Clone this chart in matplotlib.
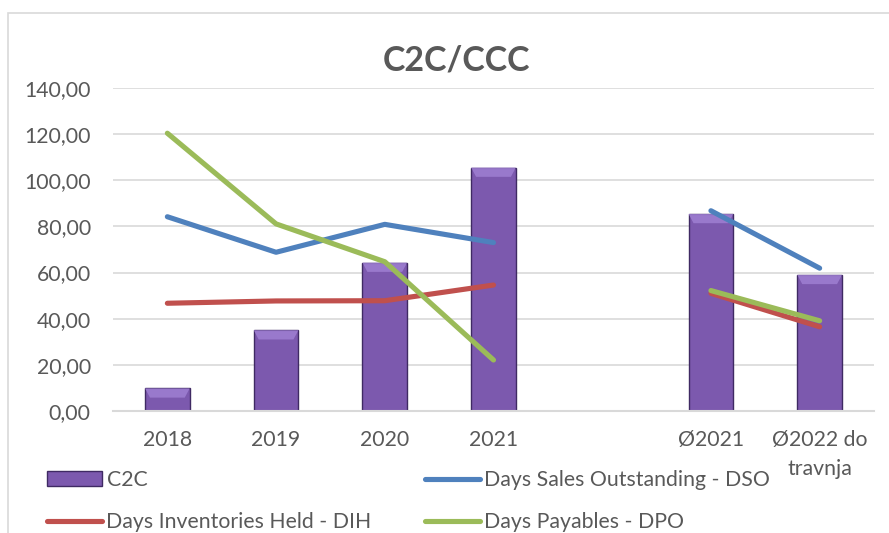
import numpy as np
import matplotlib
matplotlib.use("Agg")
import matplotlib.pyplot as plt
from matplotlib.patches import Rectangle, Patch, Polygon
from matplotlib.lines import Line2D
from matplotlib.ticker import FuncFormatter

plt.rcParams['font.family'] = ['Lato', 'DejaVu Sans']

categories = ["2018", "2019", "2020", "2021", "", "Ø2021", "Ø2022 do\ntravnja"]
c2c = [9.8, 35.0, 64.3, 105.5, np.nan, 85.4, 59.0]
dso = [84.2, 68.8, 80.9, 73.0, np.nan, 86.8, 61.9]
dih = [46.7, 47.7, 47.8, 54.6, np.nan, 51.0, 36.5]
dpo = [120.4, 81.1, 64.7, 22.1, np.nan, 52.2, 39.1]

TXT = "#595959"
GRID = "#d9d9d9"
BAR = "#7c59ae"
BAR_EDGE = "#3f2a63"
BAR_TOP = "#9f7fd2"
C_DSO = "#4f81bd"
C_DIH = "#c0504d"
C_DPO = "#9bbb59"
FS = 15.3

fig = plt.figure(figsize=(8.89, 5.33), dpi=100)
fig.patch.set_facecolor("white")
fig.add_artist(Rectangle((8/889, -0.05), 1.1, 1 - 13/533 + 0.05, transform=fig.transFigure,
                         fill=False, edgecolor="#d9d9d9", linewidth=1.2))

ax = fig.add_axes([113/889, 1 - 411/533, (874 - 113)/889, (411 - 88)/533])
x = np.arange(len(categories))
vals = np.array(c2c, dtype=float)
bw = 0.41
ax.bar(x, vals, width=bw, color=BAR, edgecolor=BAR_EDGE, linewidth=1.0, zorder=2)
# bevel highlight on top of each bar
bev = 4.0
inset = 0.045
for xi, v in zip(x, vals):
    if np.isnan(v):
        continue
    h = min(bev, v / 2)
    poly = Polygon([(xi - bw/2, v), (xi + bw/2, v), (xi + bw/2 - inset, v - h), (xi - bw/2 + inset, v - h)],
                   closed=True, facecolor=BAR_TOP, edgecolor='none', alpha=0.85, zorder=2.5)
    ax.add_patch(poly)

lw = 3.7
ax.plot(x, dso, color=C_DSO, lw=lw, solid_capstyle='round', solid_joinstyle='round', zorder=3)
ax.plot(x, dih, color=C_DIH, lw=lw, solid_capstyle='round', solid_joinstyle='round', zorder=3)
ax.plot(x, dpo, color=C_DPO, lw=lw, solid_capstyle='round', solid_joinstyle='round', zorder=3)

ax.set_xlim(-0.5, len(categories) - 0.5)
ax.set_ylim(0, 140)
ax.set_yticks(np.arange(0, 141, 20))
ax.yaxis.set_major_formatter(FuncFormatter(lambda v, p: f"{v:.2f}".replace(".", ",")))
ax.set_xticks(x)
ax.set_xticklabels(categories, linespacing=1.55)
ax.grid(axis='y', color=GRID, linewidth=1.2, zorder=0)
ax.set_axisbelow(True)
for s in ["top", "right", "left"]:
    ax.spines[s].set_visible(False)
ax.spines["bottom"].set_color(GRID)
ax.spines["bottom"].set_linewidth(1.5)
ax.tick_params(axis='both', length=0, labelsize=FS, labelcolor=TXT)
ax.tick_params(axis='x', pad=14)
ax.tick_params(axis='y', pad=16)

fig.text(457/889, 1 - 61/533, "C2C/CCC", ha='center', va='center', fontsize=24.5,
         fontweight='bold', color=TXT)

h_c2c = Patch(facecolor=BAR, edgecolor=BAR_EDGE, linewidth=1.0)
h_dso = Line2D([], [], color=C_DSO, lw=lw, solid_capstyle='round')
h_dih = Line2D([], [], color=C_DIH, lw=lw, solid_capstyle='round')
h_dpo = Line2D([], [], color=C_DPO, lw=lw, solid_capstyle='round')
# column-major order so rows read: C2C | DSO ; DIH | DPO
handles = [h_c2c, h_dih, h_dso, h_dpo]
labels = ["C2C", "Days Inventories Held - DIH", "Days Sales Outstanding - DSO", "Days Payables - DPO"]
leg = fig.legend(handles, labels, ncol=2, loc='upper left', bbox_to_anchor=(47/889, 1 - 470/533),
                 frameon=False, fontsize=FS, handlelength=2.6, handletextpad=0.2,
                 columnspacing=2.5, labelspacing=1.05, borderpad=0, borderaxespad=0)
for t in leg.get_texts():
    t.set_color(TXT)

fig.savefig("out.png", dpi=100, facecolor="white")
